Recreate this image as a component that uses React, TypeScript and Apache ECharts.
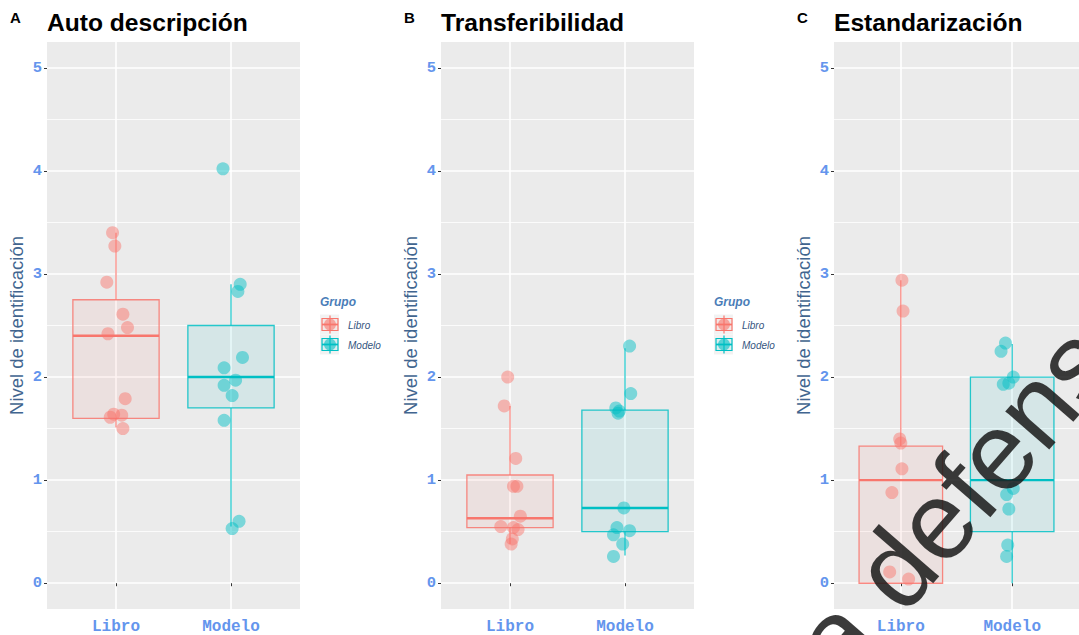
import React, { useEffect, useRef } from "react";
import * as echarts from "echarts";

// ---------- data ----------
const categories = ["Libro", "Modelo"];
const panelTitles = ["Auto descripción", "Transferibilidad", "Estandarización"];
const panelTags = ["A", "B", "C"];
const yTicks = [0, 1, 2, 3, 4, 5];
const yMinorTicks = [0.5, 1.5, 2.5, 3.5, 4.5];
const yAxisTitle = "Nivel de identificación";
const legendTitle = "Grupo";
const watermarkText = "a defensa";

// box statistics: [lower whisker, q1, median, q3, upper whisker]
const boxA_Libro = [1.51, 1.6, 2.4, 2.75, 3.4];
const boxA_Modelo = [0.55, 1.7, 2.0, 2.5, 2.9];
const boxB_Libro = [0.38, 0.54, 0.63, 1.05, 1.72];
const boxB_Modelo = [0.27, 0.5, 0.73, 1.68, 2.28];
const boxC_Libro = [0, 0, 1.0, 1.33, 2.94];
const boxC_Modelo = [0, 0.5, 1.0, 2.0, 2.32];

// jittered observations (value) and their horizontal jitter (category units)
const ptsA_Libro = [3.4, 3.27, 2.92, 2.61, 2.48, 2.42, 1.79, 1.64, 1.61, 1.63, 1.5];
const jitA_Libro = [-0.03, -0.01, -0.08, 0.06, 0.1, -0.07, 0.08, -0.02, -0.05, 0.05, 0.06];
const ptsA_Modelo = [4.02, 2.9, 2.83, 2.19, 2.09, 1.97, 1.92, 1.82, 1.58, 0.6, 0.53];
const jitA_Modelo = [-0.07, 0.08, 0.06, 0.1, -0.06, 0.04, -0.06, 0.01, -0.06, 0.07, 0.01];

const ptsB_Libro = [2.0, 1.72, 1.21, 0.94, 0.94, 0.65, 0.55, 0.54, 0.52, 0.43, 0.38];
const jitB_Libro = [-0.02, -0.05, 0.05, 0.06, 0.03, 0.09, -0.08, 0.03, 0.07, 0.02, 0.01];
const ptsB_Modelo = [2.3, 1.84, 1.7, 1.67, 1.65, 0.73, 0.54, 0.47, 0.51, 0.38, 0.26];
const jitB_Modelo = [0.04, 0.05, -0.08, -0.05, -0.06, -0.01, -0.07, -0.1, 0.04, -0.02, -0.1];

const ptsC_Libro = [2.94, 2.64, 1.4, 1.36, 1.11, 0.88, 0.11, 0.04];
const jitC_Libro = [0.01, 0.02, -0.01, 0.0, 0.01, -0.08, -0.1, 0.07];
const ptsC_Modelo = [2.33, 2.25, 2.0, 1.94, 1.93, 0.92, 0.86, 0.72, 0.37, 0.26];
const jitC_Modelo = [-0.06, -0.1, 0.01, -0.03, -0.08, 0.01, -0.05, -0.03, -0.04, -0.05];

const panels = [
  { boxes: [boxA_Libro, boxA_Modelo], pts: [ptsA_Libro, ptsA_Modelo], jit: [jitA_Libro, jitA_Modelo], legend: true },
  { boxes: [boxB_Libro, boxB_Modelo], pts: [ptsB_Libro, ptsB_Modelo], jit: [jitB_Libro, jitB_Modelo], legend: true },
  { boxes: [boxC_Libro, boxC_Modelo], pts: [ptsC_Libro, ptsC_Modelo], jit: [jitC_Libro, jitC_Modelo], legend: false },
];

// ---------- styles ----------
const groupColors = ["#F8766D", "#00BFC4"];
const groupFills = ["rgba(248,118,109,0.09)", "rgba(0,191,196,0.09)"];
const groupPoints = ["rgba(248,118,109,0.6)", "rgba(0,191,196,0.6)"];
const tickBlue = "#6495ED";
const titleBlue = "#41658F";
const legendTitleBlue = "#4A7DB8";
const legendLabelBlue = "#34547E";
const panelBg = "#EBEBEB";
const panelLefts = [47, 441, 834];
const panelWidth = 253;
const panelTop = 42;
const panelHeight = 567;
const Y_MIN = -0.25;
const Y_MAX = 5.25;
const X_MIN = 0.4;
const X_MAX = 2.6;

function buildOption() {
  const grid: any[] = [];
  const xAxis: any[] = [];
  const yAxis: any[] = [];
  const series: any[] = [];
  const graphic: any[] = [];

  panels.forEach((p, i) => {
    const left = panelLefts[i];
    grid.push({
      left,
      top: panelTop,
      width: panelWidth,
      height: panelHeight,
      show: true,
      backgroundColor: panelBg,
      borderWidth: 0,
      containLabel: false,
    });
    xAxis.push({
      type: "value",
      gridIndex: i,
      min: X_MIN,
      max: X_MAX,
      axisLine: { show: false },
      axisTick: { show: true, customValues: [1, 2], length: 3, lineStyle: { color: "#333333", width: 1 } },
      axisLabel: {
        customValues: [1, 2],
        formatter: (v: number) => categories[Math.round(v) - 1] || "",
        color: tickBlue,
        fontFamily: "Liberation Mono",
        fontWeight: "bold",
        fontSize: 16,
        margin: 10,
      },
      splitLine: { show: true, lineStyle: { color: "#FFFFFF", width: 1.6 } },
    });
    // major y axis
    yAxis.push({
      type: "value",
      gridIndex: i,
      min: Y_MIN,
      max: Y_MAX,
      axisLine: { show: false },
      axisTick: { show: true, customValues: yTicks, length: 3, lineStyle: { color: "#333333", width: 1 } },
      axisLabel: {
        customValues: yTicks,
        color: tickBlue,
        fontFamily: "Liberation Mono",
        fontWeight: "bold",
        fontSize: 15.5,
        margin: 5,
      },
      splitLine: { show: true, lineStyle: { color: "#FFFFFF", width: 1.6 } },
      name: yAxisTitle,
      nameLocation: "middle",
      nameGap: 21,
      nameTextStyle: { color: titleBlue, fontSize: 18.5, fontFamily: "Liberation Sans" },
    });
  });
  // minor y axes (for minor grid lines)
  panels.forEach((p, i) => {
    yAxis.push({
      type: "value",
      gridIndex: i,
      min: Y_MIN,
      max: Y_MAX,
      axisLine: { show: false },
      axisTick: { show: false, customValues: yMinorTicks },
      axisLabel: { show: false, customValues: yMinorTicks },
      splitLine: { show: true, lineStyle: { color: "#FFFFFF", width: 0.8 } },
    });
  });

  panels.forEach((p, i) => {
    // boxes
    const boxData = p.boxes.map((b, g) => [g + 1, b[0], b[1], b[2], b[3], b[4], g]);
    series.push({
      type: "custom",
      xAxisIndex: i,
      yAxisIndex: i,
      z: 2,
      data: boxData,
      renderItem: (params: any, api: any) => {
        const x = api.value(0);
        const lo = api.value(1);
        const q1 = api.value(2);
        const med = api.value(3);
        const q3 = api.value(4);
        const hi = api.value(5);
        const g = api.value(6);
        const c = groupColors[g];
        const half = 0.375;
        const tl = api.coord([x - half, q3]);
        const br = api.coord([x + half, q1]);
        const pHi = api.coord([x, hi]);
        const pLo = api.coord([x, lo]);
        const pQ3 = api.coord([x, q3]);
        const pQ1 = api.coord([x, q1]);
        const mL = api.coord([x - half, med]);
        const mR = api.coord([x + half, med]);
        return {
          type: "group",
          children: [
            { type: "line", shape: { x1: pHi[0], y1: pHi[1], x2: pQ3[0], y2: pQ3[1] }, style: { stroke: c, lineWidth: 1.3, opacity: 0.85 } },
            { type: "line", shape: { x1: pQ1[0], y1: pQ1[1], x2: pLo[0], y2: pLo[1] }, style: { stroke: c, lineWidth: 1.3, opacity: 0.85 } },
            {
              type: "rect",
              shape: { x: tl[0], y: tl[1], width: br[0] - tl[0], height: br[1] - tl[1] },
              style: { fill: groupFills[g], stroke: c, lineWidth: 1.3, strokeOpacity: 0.85 },
            },
            { type: "line", shape: { x1: mL[0], y1: mL[1], x2: mR[0], y2: mR[1] }, style: { stroke: c, lineWidth: 2.4 } },
          ],
        };
      },
    });
    // points
    p.pts.forEach((vals, g) => {
      series.push({
        type: "scatter",
        xAxisIndex: i,
        yAxisIndex: i,
        z: 3,
        symbol: "circle",
        symbolSize: 13,
        itemStyle: { color: groupPoints[g], borderWidth: 0 },
        data: vals.map((v, k) => [g + 1 + p.jit[g][k], v]),
      });
    });

    // titles
    const left = panelLefts[i];
    graphic.push({
      type: "text",
      x: left - 37,
      y: 17,
      style: { text: panelTags[i], font: "bold 15px 'Liberation Sans'", fill: "#000", textAlign: "left", textVerticalAlign: "middle", align: "left", verticalAlign: "middle" },
    });
    graphic.push({
      type: "text",
      x: left,
      y: 22,
      style: { text: panelTitles[i], font: "bold 24.6px 'Liberation Sans'", fill: "#000", textAlign: "left", textVerticalAlign: "middle", align: "left", verticalAlign: "middle" },
    });

    // legend
    if (p.legend) {
      const lx = left + 273;
      graphic.push({
        type: "text",
        x: lx,
        y: 302,
        style: { text: legendTitle, font: "italic bold 12px 'Liberation Sans'", fill: legendTitleBlue, textAlign: "left", textVerticalAlign: "middle", align: "left", verticalAlign: "middle" },
      });
      categories.forEach((cat, g) => {
        const cy = 324.5 + g * 20;
        const cx = lx + 10;
        graphic.push({ type: "rect", shape: { x: lx, y: cy - 10, width: 19, height: 20 }, style: { fill: "#F2F2F2" } });
        graphic.push({ type: "line", shape: { x1: cx, y1: cy - 9, x2: cx, y2: cy + 9 }, style: { stroke: groupColors[g], lineWidth: 1.2 } });
        graphic.push({ type: "rect", shape: { x: lx + 2, y: cy - 6, width: 16, height: 12 }, style: { fill: groupFills[g], stroke: groupColors[g], lineWidth: 1.2 } });
        graphic.push({ type: "line", shape: { x1: lx + 2, y1: cy, x2: lx + 18, y2: cy }, style: { stroke: groupColors[g], lineWidth: 1.8 } });
        graphic.push({ type: "circle", shape: { cx, cy, r: 6 }, style: { fill: groupPoints[g] } });
        graphic.push({
          type: "text",
          x: lx + 28,
          y: cy + 1,
          style: { text: cat, font: "italic 10px 'Liberation Sans'", fill: legendLabelBlue, textAlign: "left", textVerticalAlign: "middle", align: "left", verticalAlign: "middle" },
        });
      });
    }
  });

  // watermark overlay
  graphic.push({
    type: "text",
    x: 856,
    y: 697,
    rotation: (49 * Math.PI) / 180,
    z: 100,
    style: {
      text: watermarkText,
      font: "110px 'Liberation Sans'",
      fill: "rgba(25,25,25,0.85)",
      textAlign: "left",
      textVerticalAlign: "bottom",
      align: "left",
      verticalAlign: "bottom",
    },
  });

  return {
    animation: false,
    backgroundColor: "#FFFFFF",
    grid,
    xAxis,
    yAxis,
    series,
    graphic,
  };
}

export default function App() {
  const ref = useRef<HTMLDivElement>(null);
  useEffect(() => {
    if (!ref.current) return;
    const chart = echarts.init(ref.current, undefined, { renderer: "svg" });
    chart.setOption(buildOption() as any);
    return () => chart.dispose();
  }, []);
  return <div ref={ref} style={{ width: 1079, height: 635, position: "absolute", left: 0, top: 0 }} />;
}
